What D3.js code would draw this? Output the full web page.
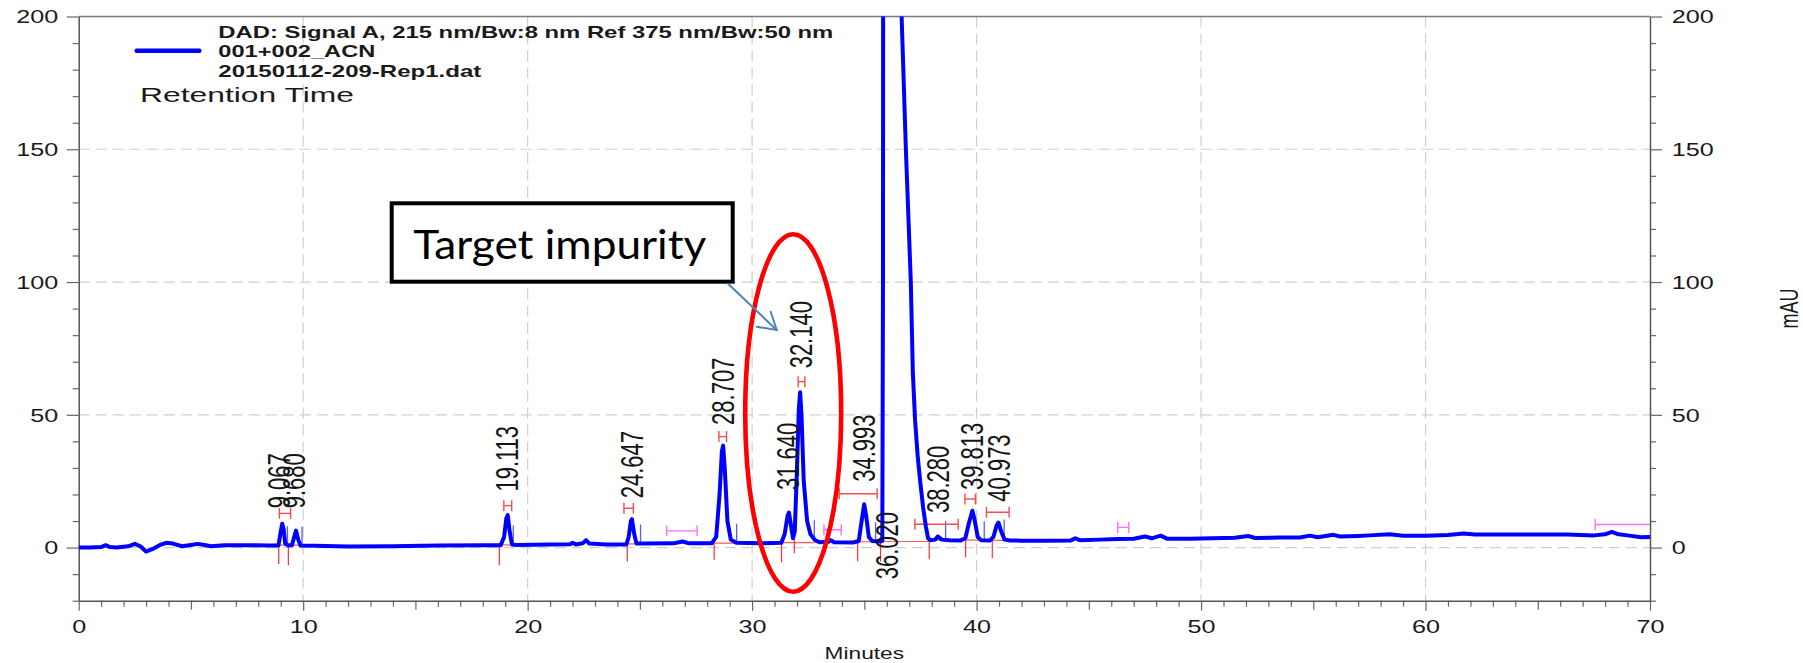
<!DOCTYPE html>
<html>
<head>
<meta charset="utf-8">
<script src="https://cdn.jsdelivr.net/npm/d3@7"></script>
<style>
  body { margin: 0; background: #fff; }
  svg { display: block; }
</style>
</head>
<body>
<div id="chart"></div>
<script>
// ---- data ----
const rtMinutes = [0, 0.5, 1.0, 1.2, 1.4, 1.7, 2.2, 2.5, 2.75, 3.0, 3.3, 3.6, 3.9, 4.2, 4.6, 5.0, 5.3, 5.6, 5.9, 6.5, 7.5, 8.5, 8.9,
  9.0, 9.067, 9.13, 9.2, 9.3, 9.5, 9.6, 9.68, 9.78, 9.88, 10.5, 12, 14, 16, 18, 18.8,
  18.95, 19.05, 19.113, 19.2, 19.3, 19.5, 21, 21.9, 22.0, 22.15, 22.45, 22.6, 22.75, 23.5, 24.4,
  24.5, 24.6, 24.647, 24.75, 24.85, 25.2, 26.5, 26.9, 27.2, 28.2,
  28.4, 28.55, 28.65, 28.707, 28.78, 28.9, 29.05, 29.3, 30.5, 31.3,
  31.45, 31.58, 31.64, 31.72, 31.82, 31.9, 32.0, 32.08, 32.14, 32.2, 32.3, 32.45, 32.6, 32.8, 33.0, 33.4, 33.5, 33.65, 34.5,
  34.75, 34.88, 34.993, 35.08, 35.2, 35.35, 35.7, 35.8, 35.83, 35.85, 36.1, 36.28, 36.47, 36.66, 36.85, 37.07, 37.16, 37.26, 37.38, 37.5, 37.62, 37.74, 37.84,
  37.95, 38.15, 38.28, 38.45, 38.8, 39.3, 39.5, 39.65, 39.813, 39.9, 40.05, 40.2, 40.6, 40.75, 40.9, 40.973, 41.1, 41.25, 41.5,
  42, 43, 44.2, 44.4, 44.6, 45.5, 46.3, 47.0, 47.5, 47.8, 48.2, 48.5, 49.5, 50.5, 51.5, 52.1, 52.4, 53.5, 54.4, 54.85, 55.2,
  55.9, 56.2, 57, 57.5, 58.4, 59, 60, 61, 61.7, 62.2, 63.3, 64.5, 66.3, 67.5, 68.0, 68.3, 68.6, 69.0, 69.6, 70];
const absorbance = [0, 0, 0.2, 0.9, 0.2, 0, 0.5, 1.4, 0.5, -1.5, -0.5, 0.9, 1.8, 1.5, 0.5, 1.0, 1.4, 1.0, 0.5, 0.9, 0.9, 0.8, 0.8,
  6, 9, 7, 1.5, 0.9, 0.9, 4, 6.4, 3, 0.8, 0.7, 0.4, 0.5, 0.8, 0.9, 0.9,
  4, 11, 12.2, 6, 1.2, 1.0, 1.2, 1.3, 1.8, 1.2, 1.6, 2.8, 1.5, 1.2, 1.2,
  4, 10, 10.7, 5, 1.5, 1.5, 1.6, 2.3, 1.6, 1.6,
  4, 20, 36, 38.4, 30, 10, 3, 1.8, 1.6, 1.8,
  5, 12, 13.2, 9, 3.5, 6, 30, 52, 58.5, 50, 25, 10, 5, 2.8, 2, 2.2, 2.8, 2, 1.9,
  2.5, 10, 16.3, 12, 4, 2.5, 2.3, 2.5, 100, 400, 1000, 300, 250, 200, 150, 100, 66, 48, 34, 24, 15, 8, 3.5,
  2.8, 3.0, 4.2, 3.0, 2.8, 2.7, 3.5, 9, 13.9, 11, 4, 2.8, 2.7, 4, 8.5, 9.4, 6, 3, 2.7,
  2.6, 2.6, 2.7, 3.5, 2.8, 3.0, 3.2, 3.3, 4.2, 3.5, 4.5, 3.3, 3.3, 3.5, 3.7, 4.4, 3.6, 3.8, 3.8, 4.5, 3.9,
  4.8, 4.2, 4.4, 4.6, 5.0, 4.5, 4.5, 4.7, 5.3, 4.9, 4.9, 4.9, 4.9, 4.6, 5.0, 5.9, 5.0, 4.6, 3.9, 4.0];

const xTicks = [0, 10, 20, 30, 40, 50, 60, 70];
const yTicks = [0, 50, 100, 150, 200];

// retention time labels (text bottom in mAU)
const peakLabels = ["9.067", "9.680", "19.113", "24.647", "28.707", "31.640", "32.140", "34.993", "36.020", "38.280", "39.813", "40.973"];
const labelX = [8.93, 9.58, 19.11, 24.65, 28.71, 31.62, 32.17, 34.99, 36.02, 38.28, 39.81, 40.99];
const labelBottom = [14.8, 14.8, 21.1, 18.6, 46.2, 21.7, 67.5, 24.8, -11.9, 13.0, 21.7, 17.3];

// integration marks
const hStart = [8.94, 18.94, 24.29, 28.52, 32.05, 33.88, 37.25, 39.48, 40.44];
const hEnd = [9.44, 19.29, 24.71, 28.86, 32.35, 35.57, 39.18, 39.95, 41.45];
const hLevel = [12.9, 15.8, 14.8, 41.8, 62.5, 20.3, 8.8, 18.3, 13.3];
const eventStart = [26.19, 33.20, 46.29, 67.56];
const eventEnd = [27.55, 33.97, 46.78, 70];
const eventLevel = [6.3, 6.7, 7.6, 8.7];
const peakStartTicks = [8.91, 9.34, 18.74, 24.44, 28.31, 31.31, 31.88, 34.70, 35.72, 37.89, 39.51, 40.70];
const peakEndTicks = [9.30, 9.95, 19.36, 25.03, 29.31, 32.77, 35.50, 38.62, 40.34, 41.23];
const baseStart = [8.91, 18.74, 24.44, 28.31, 31.31, 34.70, 35.72, 37.89, 39.51, 40.70];
const baseEnd = [9.95, 19.36, 25.03, 29.31, 32.77, 35.50, 37.89, 38.62, 40.34, 41.23];
const baseLevel = [0.9, 1.0, 1.4, 1.7, 1.9, 2.2, 2.3, 2.8, 2.8, 2.7];

const W = 1803, H = 663;
const FONT = "'Liberation Sans', Arial, sans-serif";
const SX = 1.4; // the original screenshot is stretched horizontally

const svg = d3.select("#chart").append("svg")
  .attr("width", W).attr("height", H)
  .style("font-family", FONT);

const x = d3.scaleLinear().domain([0, 70]).range([78.7, 1650]);
const y = d3.scaleLinear().domain([-20, 200]).range([600.7, 16.5]);

// gridlines
const grid = svg.append("g").attr("stroke", "#cfcfcf").attr("stroke-width", 1.2).attr("stroke-dasharray", "11,6");
grid.selectAll("line.v").data(xTicks.slice(1, -1)).enter().append("line")
  .attr("x1", d => x(d)).attr("x2", d => x(d)).attr("y1", y(200)).attr("y2", y(-20));
grid.selectAll("line.h").data(yTicks.slice(0, -1)).enter().append("line")
  .attr("x1", x(0)).attr("x2", x(70)).attr("y1", d => y(d)).attr("y2", d => y(d));

// top frame
svg.append("line").attr("x1", x(0)).attr("x2", x(70)).attr("y1", y(200)).attr("y2", y(200))
  .attr("stroke", "#7a7a7a").attr("stroke-width", 1.3);

// axes
function styleAxis(g) {
  g.select(".domain").attr("stroke", "#555").attr("stroke-width", 1.5);
  g.selectAll(".tick line").attr("stroke", "#666").attr("stroke-width", 1.2);
  g.selectAll("text").attr("fill", "#1a1a1a").attr("font-size", 18).attr("font-family", FONT);
}

const minutesMinor = d3.range(0, 71, 1);
svg.append("g").attr("transform", `translate(0,${y(-20)})`)
  .call(d3.axisBottom(x).tickValues(minutesMinor.filter(d => d % 5 !== 0)).tickSize(6).tickFormat(""))
  .call(g => { styleAxis(g); g.select(".domain").remove(); });
svg.append("g").attr("transform", `translate(0,${y(-20)})`)
  .call(d3.axisBottom(x).tickValues([5, 15, 25, 35, 45, 55, 65]).tickSize(9).tickFormat(""))
  .call(g => { styleAxis(g); g.select(".domain").remove(); });
svg.append("g").attr("transform", `translate(0,${y(-20)})`)
  .call(d3.axisBottom(x).tickValues(xTicks).tickSize(10).tickSizeOuter(0).tickFormat(d3.format("d")))
  .call(styleAxis)
  .call(g => g.selectAll("text").attr("y", 32.6).attr("dy", null).attr("transform", `scale(${SX},1)`));

const yMinor = d3.range(-20, 201, 10).filter(d => d % 50 !== 0);
[["left", d3.axisLeft, x(0)], ["right", d3.axisRight, x(70)]].forEach(([side, axisFn, pos]) => {
  svg.append("g").attr("transform", `translate(${pos},0)`)
    .call(axisFn(y).tickValues(yMinor).tickSize(6).tickFormat(""))
    .call(g => { styleAxis(g); g.select(".domain").remove(); });
  svg.append("g").attr("transform", `translate(${pos},0)`)
    .call(axisFn(y).tickValues(yTicks).tickSize(12).tickSizeOuter(0).tickFormat(d3.format("d")))
    .call(styleAxis)
    .call(g => g.selectAll("text")
      .attr("x", side === "left" ? -20.4 / SX : 21.7 / SX)
      .attr("dy", "0.35em")
      .attr("transform", `scale(${SX},1)`));
});

// axis titles
svg.append("text").attr("transform", `translate(${(x(0) + x(70)) / 2},659) scale(1.42,1)`)
  .attr("text-anchor", "middle").attr("font-size", 16).attr("fill", "#1a1a1a").text("Minutes");
svg.append("text").attr("transform", `translate(1789,${(y(200) + y(-20)) / 2}) scale(${SX},1) rotate(-90)`)
  .attr("text-anchor", "middle").attr("dy", "0.35em").attr("font-size", 18).attr("fill", "#1a1a1a").text("mAU");

// clip to plot area
svg.append("defs").append("clipPath").attr("id", "plot")
  .append("rect").attr("x", x(0)).attr("y", y(200)).attr("width", x(70) - x(0)).attr("height", y(-20) - y(200));

const plot = svg.append("g").attr("clip-path", "url(#plot)");

const traceAt = t => {
  const i = d3.bisectLeft(rtMinutes, t);
  if (i <= 0) return absorbance[0];
  const t0 = rtMinutes[i - 1], t1 = rtMinutes[i];
  return absorbance[i - 1] + (absorbance[i] - absorbance[i - 1]) * (t - t0) / (t1 - t0);
};

// red integration baselines
plot.selectAll("line.base").data(baseStart).enter().append("line")
  .attr("x1", d => x(d)).attr("x2", (d, i) => x(baseEnd[i]))
  .attr("y1", (d, i) => y(baseLevel[i])).attr("y2", (d, i) => y(baseLevel[i]))
  .attr("stroke", "#ff5a5a").attr("stroke-width", 1.2);

// red peak start ticks (below baseline)
plot.selectAll("line.ps").data(peakStartTicks).enter().append("line")
  .attr("x1", d => x(d)).attr("x2", d => x(d))
  .attr("y1", d => y(traceAt(d))).attr("y2", d => y(traceAt(d)) + 20)
  .attr("stroke", "#ff3030").attr("stroke-width", 1.2);

// blue peak end ticks (above baseline)
plot.selectAll("line.pe").data(peakEndTicks).enter().append("line")
  .attr("x1", d => x(d)).attr("x2", d => x(d))
  .attr("y1", d => y(traceAt(d))).attr("y2", d => y(traceAt(d)) - 19)
  .attr("stroke", "#5a5aff").attr("stroke-width", 1.3);

// H markers
function hMarks(starts, ends, levels, color, capRight) {
  starts.forEach((s, i) => {
    const g = plot.append("g").attr("stroke", color).attr("stroke-width", 1.4);
    const yy = y(levels[i]);
    g.append("line").attr("x1", x(s)).attr("x2", x(ends[i])).attr("y1", yy).attr("y2", yy);
    g.append("line").attr("x1", x(s)).attr("x2", x(s)).attr("y1", yy - 5.5).attr("y2", yy + 5.5);
    if (capRight(i)) g.append("line").attr("x1", x(ends[i])).attr("x2", x(ends[i])).attr("y1", yy - 5.5).attr("y2", yy + 5.5);
  });
}
hMarks(hStart, hEnd, hLevel, "#ff4a4a", () => true);
hMarks(eventStart, eventEnd, eventLevel, "#ff6cff", i => eventEnd[i] < 70);

// trace
const line = d3.line().x(d => x(d[0])).y(d => y(d[1]));
plot.append("path")
  .datum(rtMinutes.map((t, i) => [t, absorbance[i]]))
  .attr("d", line)
  .attr("fill", "none").attr("stroke", "#0000ff").attr("stroke-width", 4)
  .attr("stroke-linejoin", "round");

// retention time labels
svg.append("g").selectAll("text").data(peakLabels).enter().append("text")
  .attr("transform", (d, i) => `translate(${x(labelX[i])},${y(labelBottom[i])}) scale(${SX},1) rotate(-90)`)
  .attr("dy", "0.35em").attr("font-size", 22).attr("fill", "#151515")
  .text(d => d);

// legend
svg.append("line").attr("x1", 136.7).attr("x2", 199.3).attr("y1", 50.7).attr("y2", 50.7)
  .attr("stroke", "#0000ff").attr("stroke-width", 4.5).attr("stroke-linecap", "round");
const legendLines = ["DAD: Signal A, 215 nm/Bw:8 nm Ref 375 nm/Bw:50 nm", "001+002_ACN", "20150112-209-Rep1.dat"];
const legendWidths = [615, 157, 263];
const legendBase = [38.3, 56.7, 77.3];
svg.append("g").selectAll("text").data(legendLines).enter().append("text")
  .attr("x", 218.3).attr("y", (d, i) => legendBase[i])
  .attr("font-size", 17).attr("font-weight", "bold").attr("fill", "#1a1a1a")
  .attr("textLength", (d, i) => legendWidths[i]).attr("lengthAdjust", "spacingAndGlyphs")
  .text(d => d);
svg.append("text").attr("x", 140).attr("y", 101.7)
  .attr("font-size", 21).attr("fill", "#1a1a1a")
  .attr("textLength", 214).attr("lengthAdjust", "spacingAndGlyphs")
  .text("Retention Time");

// ---- overlay annotation ----
svg.append("ellipse").attr("cx", 793.2).attr("cy", 413).attr("rx", 48).attr("ry", 178.7)
  .attr("fill", "none").attr("stroke", "#ff0000").attr("stroke-width", 4.6);

svg.append("rect").attr("x", 391.7).attr("y", 203.3).attr("width", 341).attr("height", 78.4)
  .attr("fill", "#fff").attr("stroke", "#000").attr("stroke-width", 4);
svg.append("text").attr("x", 413.3).attr("y", 259)
  .attr("font-family", "Lato, 'Open Sans', sans-serif").attr("font-size", 41).attr("fill", "#000")
  .attr("textLength", 293).attr("lengthAdjust", "spacingAndGlyphs")
  .text("Target impurity");

const arrow = svg.append("g").attr("stroke", "#4f81bd").attr("stroke-width", 2).attr("fill", "none")
  .attr("stroke-linecap", "round");
arrow.append("line").attr("x1", 728.3).attr("y1", 284).attr("x2", 776.7).attr("y2", 330);
arrow.append("polyline").attr("points", "770.7,311.7 776.7,330 756.7,326.7");
</script>
</body>
</html>
